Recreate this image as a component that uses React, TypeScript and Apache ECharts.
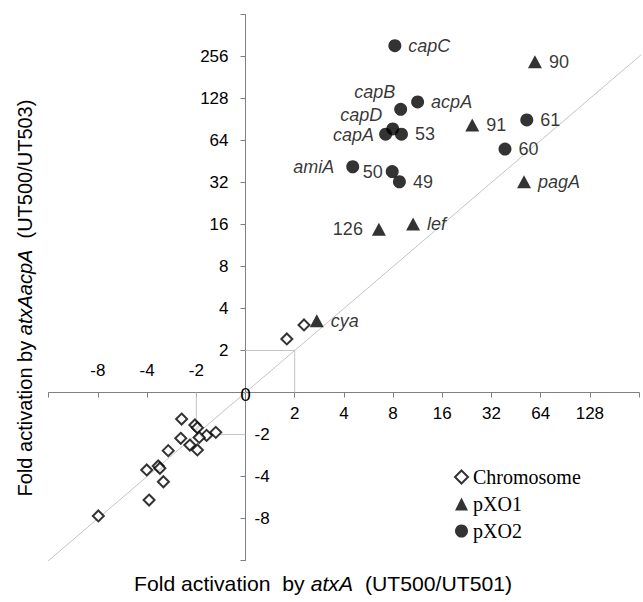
import React, { useEffect, useRef } from 'react';
import * as echarts from 'echarts';

// Tick labels on the log2 steps (t = -4 .. 8 for x, t = -4 .. 9 for y)
const X_MIN = -4;
const X_MAX = 8;
const Y_MIN = -4;
const Y_MAX = 9;
const xTickLabels = ['', '-8', '-4', '-2', '0', '2', '4', '8', '16', '32', '64', '128', ''];
const yTickLabels = ['', '-8', '-4', '-2', '0', '2', '4', '8', '16', '32', '64', '128', '256', ''];

// Chromosome genes (fold activation by atxA, fold activation by atxA acpA)
const chromosomeX = [1.79, 2.28, -2.46, -2.04, -1.97, -1.52, -1.73, -2.49, -1.92, -2.19, -1.97, -2.97, -4.02, -3.42, -3.34, -3.18, -3.89, -7.95];
const chromosomeY = [2.42, 3.05, -1.55, -1.71, -1.79, -1.93, -2.03, -2.13, -2.1, -2.38, -2.58, -2.61, -3.59, -3.36, -3.49, -4.36, -5.9, -7.67];

// pXO1 genes
const pxo1Names = ['90', '91', 'pagA', '126', 'lef', 'cya'];
const pxo1X = [59, 24.4, 50.6, 6.55, 10.6, 2.73];
const pxo1Y = [235, 82.6, 32.4, 14.8, 16.1, 3.27];

// pXO2 genes
const pxo2Names = ['capC', 'capB', 'acpA', 'capA', 'capD', '53', 'amiA', '50', '49', '61', '60'];
const pxo2X = [8.2, 8.9, 11.3, 7.2, 7.96, 9.0, 4.53, 7.9, 8.74, 52.6, 38.7];
const pxo2Y = [306, 107, 121, 71, 77.4, 71, 41.5, 38.3, 32.4, 89.9, 55.6];

const seriesNames = ['Chromosome', 'pXO1', 'pXO2'];

// 2-fold threshold boxes and identity line extent (in log2 steps)
const threshold = 2;
const diagonalExtent = [-4.15, 8.1];

const toT = (v: number) => (v === 0 ? 0 : Math.sign(v) * Math.log2(Math.abs(v)));

export default function App() {
  const ref = useRef<HTMLDivElement>(null);

  useEffect(() => {
    if (!ref.current) return;
    const chart = echarts.init(ref.current, null, { renderer: 'svg' });
    const font = "'Liberation Sans', Arial, Helvetica, sans-serif";
    const axisColor = '#808080';
    const lightGray = '#c4c4c4';

    // plot frame (pixels)
    const L = 48.7;
    const R = 3.9;
    const T = 14.5;
    const B = 41.5;
    const W = 643 - L - R;
    const H = 602 - T - B;
    const zeroX = L + ((0 - X_MIN) / (X_MAX - X_MIN)) * W;
    const zeroY = T + ((Y_MAX - 0) / (Y_MAX - Y_MIN)) * H;

    const stepLabel = (arr: string[], min: number, pred: (t: number) => boolean) => (v: number) => {
      const t = Math.round(v);
      return pred(t) ? arr[t - min] ?? '' : '';
    };

    const placement: Record<string, any> = {
      capB: { position: 'left', distance: 5, offset: [6, -17] },
      capD: { position: 'left', distance: 5, offset: [1, -14] },
      capA: { position: 'left', distance: 5, offset: [0, 1] },
      amiA: { position: 'left', distance: 12 },
      '50': { position: 'left', distance: 3 },
      '126': { position: 'left', distance: 9 },
    };

    const item = (name: string, x: number, y: number) => ({
      name,
      value: [toT(x), toT(y)],
      label: {
        show: true,
        formatter: name,
        fontStyle: /^\d+$/.test(name) ? 'normal' : 'italic',
        position: 'right',
        distance: 7,
        ...(placement[name] || {}),
      },
    });

    const labelStyle = { fontSize: 18, fontFamily: font, color: '#000' };
    const tickFont = { fontSize: 17, fontFamily: font, color: '#000' };
    const tT = toT(threshold);
    const tN = toT(-threshold);

    const xCommon = { type: 'value', min: X_MIN, max: X_MAX, interval: 1, splitLine: { show: false } };
    const yCommon = { type: 'value', min: Y_MIN, max: Y_MAX, interval: 1, splitLine: { show: false } };
    const hidden = { show: false };
    const gridCommon = { containLabel: false, outerBoundsMode: 'none' };

    chart.setOption({
      animation: false,
      grid: [
        // 0: data grid
        { ...gridCommon, left: L, top: T, width: W, height: H },
        // 1: holds the x axis along y = 0
        { ...gridCommon, left: L, top: T, width: W, height: zeroY - T },
        // 2: holds the y axis along x = 0
        { ...gridCommon, left: zeroX, top: T, width: 643 - R - zeroX, height: H },
      ],
      legend: {
        data: seriesNames,
        orient: 'vertical',
        left: 449,
        top: 462,
        itemWidth: 13,
        itemHeight: 13,
        itemGap: 7,
        selectedMode: false,
        textStyle: { fontFamily: "'Liberation Serif', 'Times New Roman', serif", fontSize: 20, color: '#000' },
      },
      xAxis: [
        { ...xCommon, gridIndex: 0, ...hidden },
        {
          ...xCommon,
          gridIndex: 1,
          position: 'bottom',
          axisLine: { onZero: false, lineStyle: { color: axisColor, width: 1 } },
          axisTick: { show: true, length: 5, lineStyle: { color: axisColor } },
          axisLabel: { ...tickFont, margin: 12, formatter: stepLabel(xTickLabels, X_MIN, (t) => t > 0) },
        },
        {
          ...xCommon,
          gridIndex: 1,
          position: 'bottom',
          axisLine: { show: false, onZero: false },
          axisTick: { show: false },
          axisLabel: { ...tickFont, inside: true, margin: 14, formatter: stepLabel(xTickLabels, X_MIN, (t) => t < 0) },
        },
        { ...xCommon, gridIndex: 2, min: 0, ...hidden },
      ],
      yAxis: [
        { ...yCommon, gridIndex: 0, ...hidden },
        { ...yCommon, gridIndex: 1, min: 0, ...hidden },
        {
          ...yCommon,
          gridIndex: 2,
          position: 'left',
          axisLine: { onZero: false, lineStyle: { color: axisColor, width: 1 } },
          axisTick: { show: true, length: 5, lineStyle: { color: axisColor } },
          axisLabel: { ...tickFont, margin: 17, formatter: stepLabel(yTickLabels, Y_MIN, (t) => t > 0) },
        },
        {
          ...yCommon,
          gridIndex: 2,
          position: 'left',
          axisLine: { show: false, onZero: false },
          axisTick: { show: false },
          axisLabel: { ...tickFont, inside: true, margin: 9, formatter: stepLabel(yTickLabels, Y_MIN, (t) => t < 0) },
        },
      ],
      series: [
        {
          type: 'line',
          name: 'identity',
          xAxisIndex: 0,
          yAxisIndex: 0,
          clip: false,
          silent: true,
          symbol: 'none',
          lineStyle: { color: lightGray, width: 1 },
          data: [
            [diagonalExtent[0], diagonalExtent[0]],
            [diagonalExtent[1], diagonalExtent[1]],
          ],
        },
        {
          type: 'line',
          name: 'boxPos',
          xAxisIndex: 0,
          yAxisIndex: 0,
          silent: true,
          symbol: 'none',
          lineStyle: { color: lightGray, width: 1 },
          data: [
            [0, tT],
            [tT, tT],
            [tT, 0],
          ],
        },
        {
          type: 'line',
          name: 'boxNeg',
          xAxisIndex: 0,
          yAxisIndex: 0,
          silent: true,
          symbol: 'none',
          lineStyle: { color: lightGray, width: 1 },
          data: [
            [tN, 0],
            [tN, tN],
            [0, tN],
          ],
        },
        {
          type: 'scatter',
          name: seriesNames[0],
          xAxisIndex: 0,
          yAxisIndex: 0,
          z: 3,
          symbol: 'diamond',
          symbolSize: 11,
          itemStyle: { color: '#ffffff', borderColor: '#000000', borderWidth: 2 },
          data: chromosomeX.map((x, i) => [toT(x), toT(chromosomeY[i])]),
        },
        {
          type: 'scatter',
          name: seriesNames[1],
          xAxisIndex: 0,
          yAxisIndex: 0,
          z: 3,
          symbol: 'triangle',
          symbolSize: [14, 13],
          itemStyle: { color: '#000000' },
          label: labelStyle,
          data: pxo1Names.map((n, i) => item(n, pxo1X[i], pxo1Y[i])),
        },
        {
          type: 'scatter',
          name: seriesNames[2],
          xAxisIndex: 0,
          yAxisIndex: 0,
          z: 3,
          symbol: 'circle',
          symbolSize: 13,
          itemStyle: { color: '#000000' },
          label: labelStyle,
          data: pxo2Names.map((n, i) => item(n, pxo2X[i], pxo2Y[i])),
        },
      ],
    });

    const origin = chart.convertToPixel({ xAxisIndex: 0, yAxisIndex: 0 } as any, [0, 0]) as number[];
    const titleRich = {
      n: { fontSize: 20, fontFamily: font, fill: '#000' },
      i: { fontSize: 20, fontFamily: font, fontStyle: 'italic', fill: '#000' },
    };

    chart.setOption({
      graphic: [
        {
          type: 'text',
          x: origin[0],
          y: origin[1] + 2,
          z: 10,
          style: {
            text: xTickLabels[-X_MIN],
            fontSize: 19,
            fontFamily: font,
            fill: '#000',
            align: 'center',
            verticalAlign: 'middle',
          },
        },
        {
          type: 'text',
          x: 323,
          y: 584,
          scaleX: 1.06,
          style: {
            text: '{n|Fold activation  by }{i|atxA}{n|  (UT500/UT501)}',
            rich: titleRich,
            align: 'center',
            verticalAlign: 'middle',
          },
        },
        {
          type: 'text',
          x: 25,
          y: 298,
          rotation: Math.PI / 2,
          style: {
            text: '{n|Fold activation by }{i|atxAacpA}{n|  (UT500/UT503)}',
            rich: titleRich,
            align: 'center',
            verticalAlign: 'middle',
          },
        },
      ],
    });

    return () => chart.dispose();
  }, []);

  return (
    <div
      ref={ref}
      style={{ position: 'fixed', left: 0, top: 0, width: 643, height: 602, background: '#fff' }}
    />
  );
}
